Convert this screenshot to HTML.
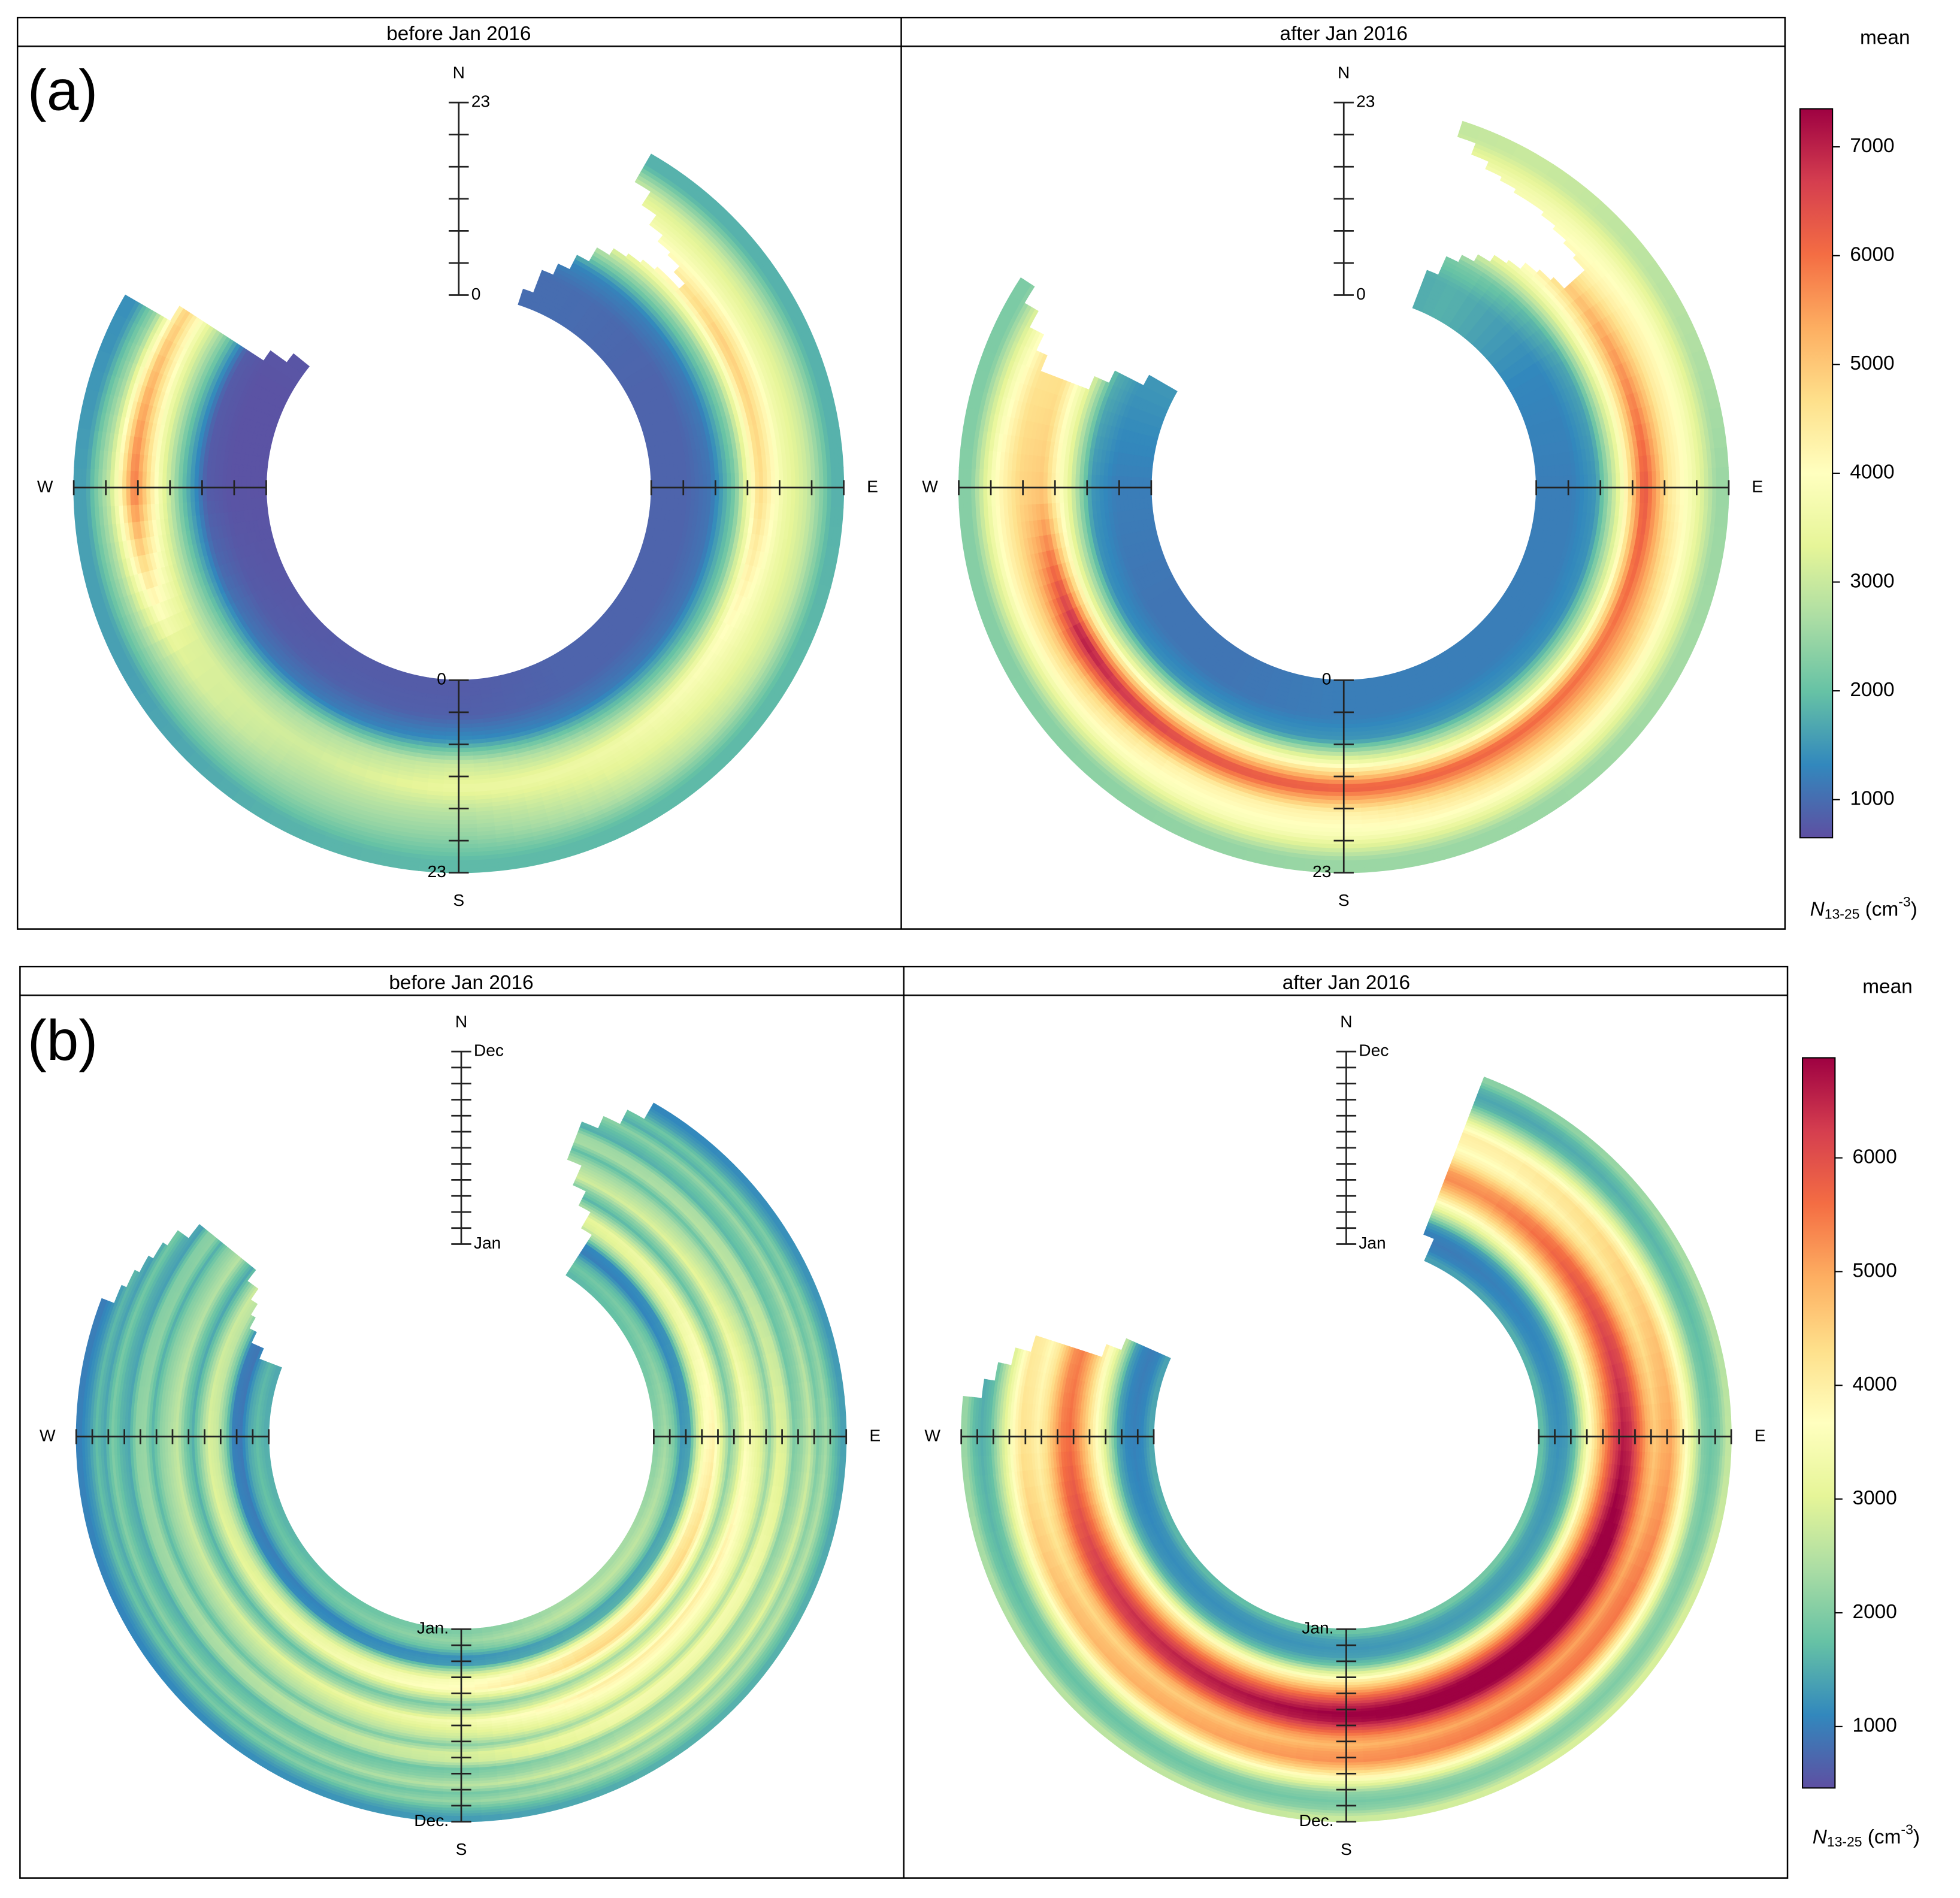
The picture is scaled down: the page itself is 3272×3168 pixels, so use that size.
<!DOCTYPE html>
<html><head><meta charset="utf-8"><style>
html,body{margin:0;padding:0;background:#fff}
svg{display:block}
text{font-family:"Liberation Sans","DejaVu Sans",sans-serif;fill:#000}
</style></head><body>
<svg id="chart" width="3272" height="3168" viewBox="0 0 1568 1518" preserveAspectRatio="none" xmlns="http://www.w3.org/2000/svg">
<defs>
<linearGradient id="cbar" x1="0" y1="1" x2="0" y2="0">
<stop offset="0" stop-color="#5E4FA2"/><stop offset="0.1" stop-color="#3288BD"/><stop offset="0.2" stop-color="#66C2A5"/><stop offset="0.3" stop-color="#ABDDA4"/><stop offset="0.4" stop-color="#E6F598"/><stop offset="0.5" stop-color="#FFFFBF"/><stop offset="0.6" stop-color="#FEE08B"/><stop offset="0.7" stop-color="#FDAE61"/><stop offset="0.8" stop-color="#F46D43"/><stop offset="0.9" stop-color="#D53E4F"/><stop offset="1" stop-color="#9E0142"/>
</linearGradient>
</defs>
<g id="marks"></g>
<g id="frames" fill="none" stroke="#000" stroke-width="1.2">
<rect x="14" y="14" width="1414" height="729"/>
<line x1="14" y1="37" x2="1428" y2="37"/><line x1="721" y1="14" x2="721" y2="743"/>
<rect x="16" y="773" width="1414" height="729"/>
<line x1="16" y1="796" x2="1430" y2="796"/><line x1="723" y1="773" x2="723" y2="1502"/>
</g>
<g font-size="16" text-anchor="middle">
<text x="367" y="32">before Jan 2016</text>
<text x="1075" y="32">after Jan 2016</text>
<text x="369" y="791">before Jan 2016</text>
<text x="1077" y="791">after Jan 2016</text>
</g>
<text x="22" y="88" font-size="46">(a)</text>
<text x="22" y="848" font-size="46">(b)</text>
<g id="axes"></g>
<g id="cbars"></g>
</svg>
<script>
// ---------- data ----------
const dirsDeg = [0,30,60,90,120,150,180,210,240,270,300,330];
const hourRowsBefore = [
[1000,1000,1300,2800,4200,3800,3200,1800],
[1000,1000,1300,2800,4200,3800,3200,1800],
[900,900,1200,2500,5000,3700,3000,1800],
[900,900,1100,2200,4800,3600,3000,1800],
[900,900,1100,2200,4000,3500,3000,1900],
[900,900,1200,2500,3600,3300,2800,1900],
[800,850,1400,3000,3500,2800,2400,1900],
[800,850,1200,2700,3100,2800,2400,1800],
[750,800,1100,2300,3200,3300,2500,1600],
[700,700,800,2000,3800,6000,3000,1600],
[700,700,800,2200,3500,5000,2500,1400],
[800,800,1000,2500,3800,4200,3000,1600]];
const hourRowsAfter = [
[1600,1600,2000,3500,4200,4000,3700,2800],
[1800,1800,2200,3500,4200,4000,3700,3000],
[1300,1300,1700,3800,5500,4400,3800,2800],
[1200,1200,1500,3500,6400,4500,3700,2500],
[1200,1200,1400,3200,6000,5000,3800,2600],
[1200,1200,1500,3300,6200,4800,3800,2500],
[1200,1200,1500,3800,6300,4300,3800,2500],
[1100,1100,1500,4000,6500,4300,3800,2400],
[1100,1100,1400,3500,7200,5000,3800,2300],
[1200,1200,1500,3500,5000,4800,4000,2300],
[1500,1500,1800,3500,4500,4500,3500,2200],
[1500,1500,1900,3500,4300,4200,3600,2400]];
const monthProfileBefore = [1800,2000,1700,1100,1200,2400,3200,3400,2600,1800,2300,3100,2800,2500,1900,2600,2500,1700,1900,2300,1700,2000,1500,1200];
const monthDirFactorBefore = [0.9,0.9,1.0,1.15,1.3,1.3,1.1,1.0,0.9,0.85,0.8,0.85];
const monthProfileAfter = [1700,1300,1200,1300,1700,2800,3800,4600,5400,6100,6600,6400,5700,5000,4600,4900,5000,4400,3600,2800,2000,1800,2000,2600];
const monthDirFactorAfter = [0.8,0.8,0.9,1.0,1.1,1.1,1.05,1.0,0.95,0.85,0.8,0.8];
const startA1 = [19,22,28,30,48,38,32,30], endA1 = [309,305,302,302,302,302,300,300];
const startA2 = [20,22,25,35,48,48,25,19], endA2 = [300,298,296,292,292,292,298,302];
const startB1 = [32,33,30,25,22,20,25,30], endB1 = [290,295,305,310,308,310,305,292];
const startB2 = [23,22,21,21,21,20,20,20], endB2 = [295,295,290,287,287,287,282,276];
const cbTicksA = [1000,2000,3000,4000,5000,6000,7000];
const cbTicksB = [1000,2000,3000,4000,5000,6000];
const hourTickLabels = ['0','23'];
const monthTickLabels = ['Jan','Dec'];

// ---------- helpers ----------
const NS='http://www.w3.org/2000/svg';
const stops=['#5E4FA2','#3288BD','#66C2A5','#ABDDA4','#E6F598','#FFFFBF','#FEE08B','#FDAE61','#F46D43','#D53E4F','#9E0142'].map(h=>[parseInt(h.slice(1,3),16),parseInt(h.slice(3,5),16),parseInt(h.slice(5,7),16)]);
function colorOf(v,vmin,vmax){let t=(v-vmin)/(vmax-vmin);t=Math.max(0,Math.min(1,t))*10;let i=Math.min(9,Math.floor(t)),f=t-i;const a=stops[i],b=stops[i+1];return 'rgb('+[0,1,2].map(k=>Math.round(a[k]+(b[k]-a[k])*f)).join(',')+')';}
function interpR(arr,t){const n=arr.length;let x=t*n-0.5;if(x<=0)return arr[0];if(x>=n-1)return arr[n-1];const i=Math.floor(x),f=x-i;return arr[i]*(1-f)+arr[i+1]*f;}
function dirPos(ang){let x=((ang%360)+360)%360/30;const i=Math.floor(x)%12,f=x-Math.floor(x);return [i,(i+1)%12,f];}
function hourVal(rows,ang,t){const [i,j,f]=dirPos(ang);return interpR(rows[i],t)*(1-f)+interpR(rows[j],t)*f;}
function monthVal(prof,fac,ang,t){const [i,j,f]=dirPos(ang);return interpR(prof,t)*(fac[i]*(1-f)+fac[j]*f);}
function el(tag,attrs,parent){const e=document.createElementNS(NS,tag);for(const k in attrs)e.setAttribute(k,attrs[k]);parent.appendChild(e);return e;}
function pt(cx,cy,r,a){const rad=a*Math.PI/180;return [cx+r*Math.sin(rad),cy-r*Math.cos(rad)];}
const marks=document.getElementById('marks');
const R0=154,R1=308;

function drawPanel(name,cx,cy,nr,valFn,st,en,vmin,vmax){
  const g=el('g',{},marks);
  
  
  const da=3;
  for(let ri=0;ri<nr;ri++){
    const t=(ri+0.5)/nr, ra=R0+(R1-R0)*ri/nr, rb=R0+(R1-R0)*(ri+1)/nr;
    const s=interpR(st,t), e=interpR(en,t);
    for(let a=0;a<360;a+=da){
      const am=a+da/2;
      if(am<s||am>e) continue;
      const v=valFn(am,t), c=colorOf(v,vmin,vmax);
      const p1=pt(cx,cy,ra,a),p2=pt(cx,cy,rb,a),p3=pt(cx,cy,rb,a+da),p4=pt(cx,cy,ra,a+da);
      const p=el('path',{d:'M'+p1+'L'+p2+'A'+rb+' '+rb+' 0 0 1 '+p3+'L'+p4+'A'+ra+' '+ra+' 0 0 0 '+p1+'Z',fill:c,stroke:c,'stroke-width':'0.6'},g);
      
      
    }
  }
}
const vA=[650,7350], vB=[460,6880];
drawPanel('panel-a-before',367,390,48,(a,t)=>hourVal(hourRowsBefore,a,t),startA1,endA1,vA[0],vA[1]);
drawPanel('panel-a-after',1075,390,48,(a,t)=>hourVal(hourRowsAfter,a,t),startA2,endA2,vA[0],vA[1]);
drawPanel('panel-b-before',369,1149,72,(a,t)=>monthVal(monthProfileBefore,monthDirFactorBefore,a,t),startB1,endB1,vB[0],vB[1]);
drawPanel('panel-b-after',1077,1149,72,(a,t)=>monthVal(monthProfileAfter,monthDirFactorAfter,a,t),startB2,endB2,vB[0],vB[1]);

// ---------- axes ----------
const axes=document.getElementById('axes');
function txt(x,y,s,size,anchor,parent,name){const t=el('text',{x:x,y:y,'font-size':size,'text-anchor':anchor,'dominant-baseline':'middle'},parent);t.textContent=s;return t;}
function polarAxes(cx,cy,nt,labels,sLabels,pfx){
  const g=el('g',{stroke:'#222','stroke-width':'1.3'},axes);
  
  
  el('line',{x1:cx,y1:cy-R1,x2:cx,y2:cy-R0},g);
  el('line',{x1:cx,y1:cy+R0,x2:cx,y2:cy+R1},g);
  el('line',{x1:cx-R1,y1:cy,x2:cx-R0,y2:cy},g);
  el('line',{x1:cx+R0,y1:cy,x2:cx+R1,y2:cy},g);
  for(let i=0;i<=nt;i++){
    const r=R0+(R1-R0)*i/nt;
    el('line',{x1:cx-8,y1:cy-r,x2:cx+8,y2:cy-r},g);
    el('line',{x1:cx-8,y1:cy+r,x2:cx+8,y2:cy+r},g);
    el('line',{x1:cx-r,y1:cy-6,x2:cx-r,y2:cy+6},g);
    el('line',{x1:cx+r,y1:cy-6,x2:cx+r,y2:cy+6},g);
  }
  const tg=el('g',{},axes);
  txt(cx+10,cy-R0,labels[0],13.5,'start',tg,pfx+'-n-min-label');
  txt(cx+10,cy-R1,labels[1],13.5,'start',tg,pfx+'-n-max-label');
  txt(cx-10,cy+R0,sLabels[0],13.5,'end',tg,pfx+'-s-min-label');
  txt(cx-10,cy+R1,sLabels[1],13.5,'end',tg,pfx+'-s-max-label');
  txt(cx,cy-R1-23,'N',13.5,'middle',tg,pfx+'-north-label');
  txt(cx,cy+R1+23,'S',13.5,'middle',tg,pfx+'-south-label');
  txt(cx-R1-23,cy,'W',13.5,'middle',tg,pfx+'-west-label');
  txt(cx+R1+23,cy,'E',13.5,'middle',tg,pfx+'-east-label');
}
polarAxes(367,390,6,hourTickLabels,hourTickLabels,'a-before');
polarAxes(1075,390,6,hourTickLabels,hourTickLabels,'a-after');
const sMonth=[monthTickLabels[0]+'.',monthTickLabels[1]+'.'];
polarAxes(369,1149,12,monthTickLabels,sMonth,'b-before');
polarAxes(1077,1149,12,monthTickLabels,sMonth,'b-after');

// ---------- colorbars ----------
const cb=document.getElementById('cbars');
function colorbar(x,y0,y1,vmin,vmax,ticks,pfx,titleY,labY){
  const g=el('g',{},cb);
  
  
  el('rect',{x:x,y:y0,width:26,height:y1-y0,fill:'url(#cbar)',stroke:'#000','stroke-width':'1'},g);
  ticks.forEach(v=>{
    const y=y1-(v-vmin)/(vmax-vmin)*(y1-y0);
    el('line',{x1:x+26,y1:y,x2:x+32,y2:y,stroke:'#000','stroke-width':'1'},g);
    txt(x+40,y,String(v),16,'start',g,pfx+'-tick-'+v);
  });
  txt(x+68,titleY,'mean',16,'middle',g,pfx+'-colorbar-title');
  const t=el('text',{x:x+8,y:labY,'font-size':'16','text-anchor':'start','dominant-baseline':'middle'},g);
  
  
  t.innerHTML='<tspan font-style="italic">N</tspan><tspan font-size="11" dy="4">13-25</tspan><tspan dy="-4"> (cm</tspan><tspan font-size="11" dy="-6">-3</tspan><tspan dy="6">)</tspan>';
}
colorbar(1440,87,670,vA[0],vA[1],cbTicksA,'a',31,728);
colorbar(1442,846,1430,vB[0],vB[1],cbTicksB,'b',790,1470);
</script>
</body></html>
